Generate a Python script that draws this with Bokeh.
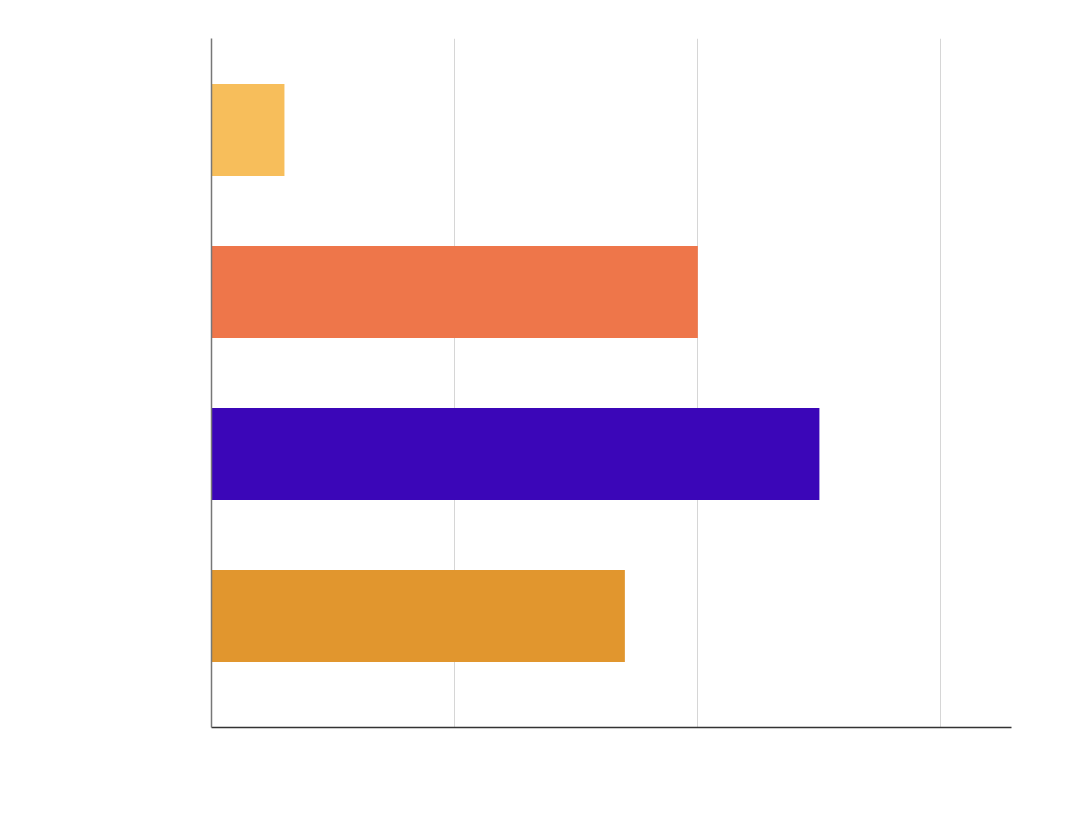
import numpy as np
from bokeh.plotting import figure
from bokeh.models import Range1d
from bokeh.embed import file_html
from bokeh.resources import INLINE

# bars from top to bottom
positions = [0, 1, 2, 3]
values = [3, 20, 25, 17]
colors = ["#F7BE5B", "#EE764A", "#3B06B8", "#E1962E"]
x_ticks = [0, 10, 20, 30]

p = figure(width=1072, height=817, output_backend="svg", toolbar_location=None,
           x_range=Range1d(0, 32.9), y_range=Range1d(3.688, -0.565),
           frame_width=800, frame_height=689,
           min_border_left=211, min_border_top=38, min_border_right=61, min_border_bottom=90)

p.hbar(y=positions, right=values, left=0, height=0.568, color=colors, line_color=None)

p.outline_line_color = None
p.background_fill_color = "white"
p.border_fill_color = "white"

p.ygrid.grid_line_color = None
p.xgrid.grid_line_color = "#d6d6d6"
p.xgrid.ticker = x_ticks
p.xaxis.ticker = x_ticks
p.yaxis.ticker = []

p.xaxis.axis_line_color = "#333333"
p.xaxis.axis_line_width = 1.5
p.yaxis.axis_line_color = "#777777"
p.yaxis.axis_line_width = 1.5
for ax in (p.xaxis, p.yaxis):
    ax.major_tick_line_color = None
    ax.minor_tick_line_color = None
    ax.major_label_text_font_size = "12px"
    ax.major_label_text_color = "white"

open("out.html", "w").write(file_html(p, INLINE))
